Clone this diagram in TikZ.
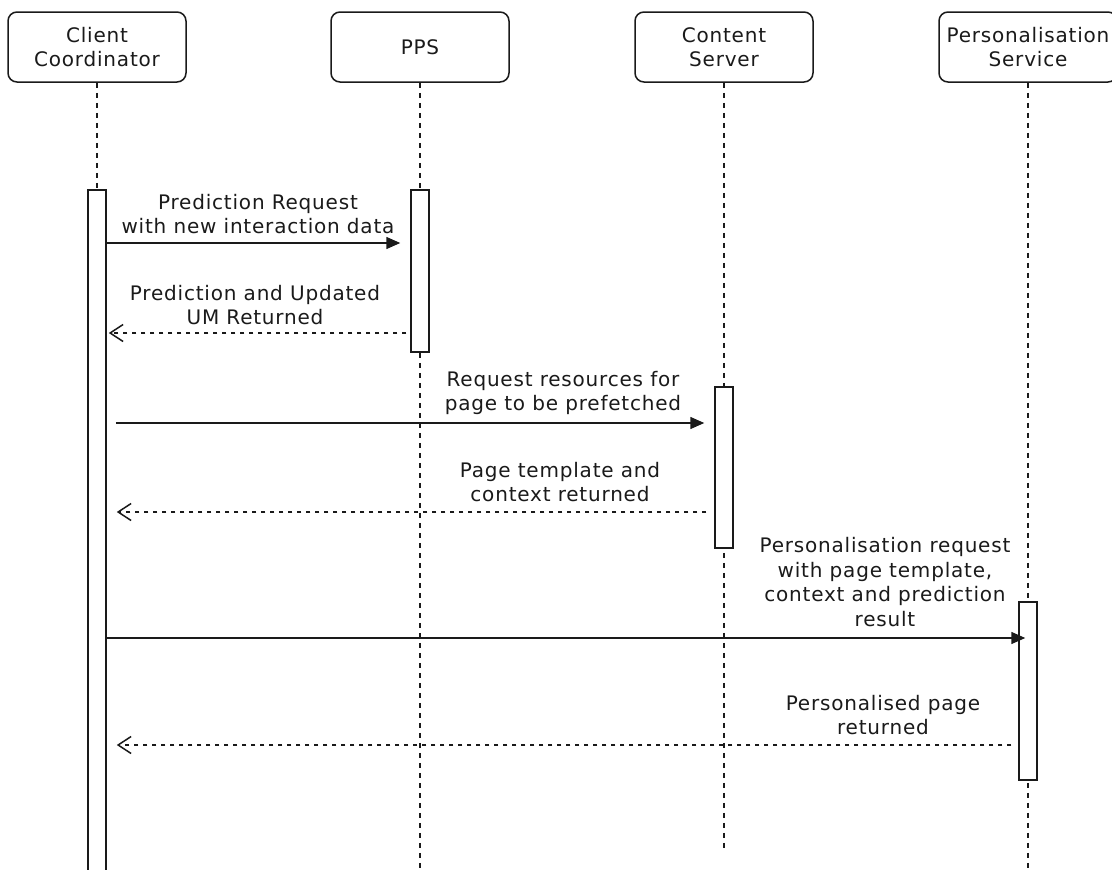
\documentclass[tikz,border=0pt]{standalone}
\usepackage{fontspec}
\setmainfont{DejaVu Sans}[LetterSpace=4]
\usetikzlibrary{arrows.meta}
\definecolor{ink}{HTML}{1A1A1A}
\begin{document}
\begin{tikzpicture}[x=1pt,y=-1pt,
  every node/.style={font=\fontsize{20}{24.5}\selectfont, text=ink},
  actor/.style={draw=ink, line width=1.5pt, rounded corners=9pt, fill=white,
    minimum width=178pt, minimum height=70pt, align=center, inner sep=0pt},
  actbar/.style={draw=ink, line width=1.5pt, fill=white, minimum width=18pt, inner sep=0pt},
  life/.style={draw=ink, line width=1.5pt, dash pattern=on 5pt off 5pt},
  call/.style={draw=ink, line width=1.5pt, -{Triangle[length=14pt,width=12pt]}},
  reply/.style={draw=ink, line width=1.5pt, dash pattern=on 4.5pt off 4.5pt,
    -{Straight Barb[length=13pt,width=17pt]}},
  lbl/.style={align=center, inner sep=0pt}]

\useasboundingbox (0,0) rectangle (1112,870);
\clip (0,0) rectangle (1112,870);

% participants
\node[actor] (client) at (97,47)   {Client\\Coordinator};
\node[actor] (pps)    at (420,47)  {PPS};
\node[actor] (cs)     at (724,47)  {Content\\Server};
\node[actor] (ps)     at (1028,47) {Personalisation\\Service};

% lifeline ends
\coordinate (ppsend) at (420,875);
\coordinate (csend)  at (724,852);
\coordinate (psend)  at (1028,875);

% activation bars (placed first so lifelines can refer to them)
\node[actbar, minimum height=690pt] (cbar)  at (97,535)   {};
\node[actbar, minimum height=162pt] (ppsbar) at (420,271) {};
\node[actbar, minimum height=161pt] (csbar) at (724,467.5) {};
\node[actbar, minimum height=178pt] (psbar) at (1028,691) {};

% lifelines
\draw[life] (client.south) -- (cbar.north);
\draw[life] (pps.south) -- (ppsend);
\draw[life] (cs.south) -- (csend);
\draw[life] (ps.south) -- (psend);

% bars redrawn on top of lifelines
\node[actbar, minimum height=690pt] at (cbar)  {};
\node[actbar, minimum height=162pt] at (ppsbar) {};
\node[actbar, minimum height=161pt] at (csbar) {};
\node[actbar, minimum height=178pt] at (psbar) {};

% messages
\draw[call, shorten >=10pt] (cbar.east |- 0,243) -- (ppsbar.west |- 0,243);
\node[lbl] (l1) at (258,214) {Prediction Request\\with new interaction data};

\draw[reply, shorten <=4pt, shorten >=2pt] (ppsbar.west |- 0,333) -- (cbar.east |- 0,333);
\node[lbl] (l2) at (255,305) {Prediction and Updated\\UM Returned};

\draw[call, shorten <=9pt, shorten >=10pt] (cbar.east |- 0,423) -- (csbar.west |- 0,423);
\node[lbl] (l3) at (563,393) {Request resources for\\page to be prefetched};

\draw[reply, shorten <=8pt, shorten >=10pt] (csbar.west |- 0,512) -- (cbar.east |- 0,512);
\node[lbl] (l4) at (560,482) {Page template and\\context returned};

\draw[call, shorten >=-7pt] (cbar.east |- 0,638) -- (psbar.west |- 0,638);
\node[lbl] (l5) at (885,582) {Personalisation request\\with page template,\\context and prediction\\result};

\draw[reply, shorten <=7pt, shorten >=10pt] (psbar.west |- 0,745) -- (cbar.east |- 0,745);
\node[lbl] (l6) at (883,715) {Personalised page\\returned};
\end{tikzpicture}
\end{document}
